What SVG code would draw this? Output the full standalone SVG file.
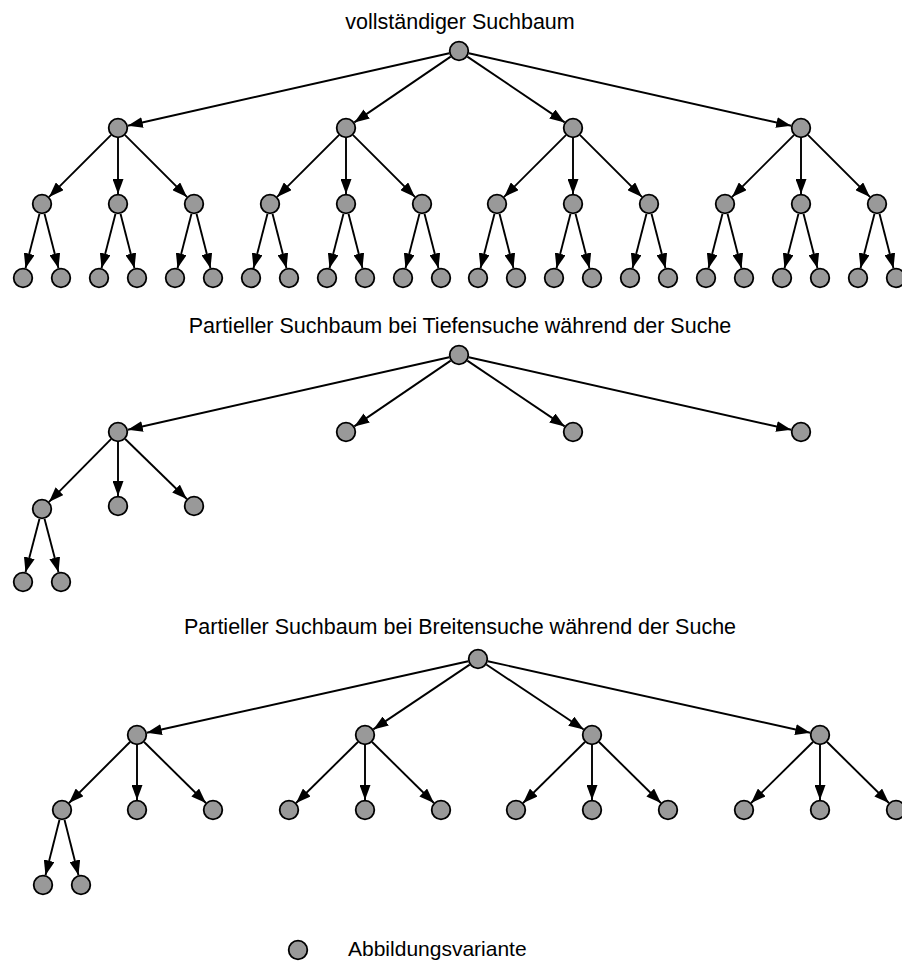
<svg xmlns="http://www.w3.org/2000/svg" xmlns:xlink="http://www.w3.org/1999/xlink" width="902" height="961" viewBox="0 0 902 961">
  <style>
    .node { fill: #999999; stroke: #000000; stroke-width: 1.8; }
    .edge { stroke: #000000; stroke-width: 1.9; fill: none; marker-end: url(#arrow); }
    .title { font-family: "Liberation Sans", Arial, sans-serif; font-size: 21.5px; fill: #000000; text-anchor: middle; }
    .legend { font-family: "Liberation Sans", Arial, sans-serif; font-size: 21px; fill: #000000; }
  </style>
  <defs>
    <marker id="arrow" markerUnits="userSpaceOnUse" markerWidth="15" markerHeight="11" refX="15" refY="5.5" orient="auto">
      <path d="M0,0 L15,5.5 L0,11 z" fill="#000000"/>
    </marker>
  </defs>

  <rect x="0" y="0" width="902" height="961" fill="#ffffff"/>

  <!-- headings -->
  <text class="title" x="460" y="29">vollständiger Suchbaum</text>
  <text class="title" x="460" y="333">Partieller Suchbaum bei Tiefensuche während der Suche</text>
  <text class="title" x="460" y="634">Partieller Suchbaum bei Breitensuche während der Suche</text>

  <!-- connectors -->
  <g id="connectors">
    <!-- full tree: root to level 1 -->
    <line class="edge" x1="449.2" y1="53.2" x2="127.8" y2="125.8"/>
    <line class="edge" x1="450.7" y1="56.6" x2="354.3" y2="122.4"/>
    <line class="edge" x1="467.3" y1="56.6" x2="564.7" y2="122.4"/>
    <line class="edge" x1="468.8" y1="53.2" x2="791.2" y2="125.8"/>
    <!-- full tree: level 1 to level 2 -->
    <line class="edge" x1="110.9" y1="135.1" x2="49.1" y2="196.9"/>
    <line class="edge" x1="118" y1="138" x2="118" y2="194"/>
    <line class="edge" x1="125.1" y1="135.1" x2="186.9" y2="196.9"/>
    <line class="edge" x1="338.9" y1="135.1" x2="277.1" y2="196.9"/>
    <line class="edge" x1="346" y1="138" x2="346" y2="194"/>
    <line class="edge" x1="353.1" y1="135.1" x2="414.9" y2="196.9"/>
    <line class="edge" x1="565.9" y1="135.1" x2="504.1" y2="196.9"/>
    <line class="edge" x1="573" y1="138" x2="573" y2="194"/>
    <line class="edge" x1="580.1" y1="135.1" x2="641.9" y2="196.9"/>
    <line class="edge" x1="793.9" y1="135.1" x2="732.1" y2="196.9"/>
    <line class="edge" x1="801" y1="138" x2="801" y2="194"/>
    <line class="edge" x1="808.1" y1="135.1" x2="869.9" y2="196.9"/>
    <!-- full tree: level 2 to leaves -->
    <line class="edge" x1="39.5" y1="213.7" x2="25.5" y2="268.3"/>
    <line class="edge" x1="44.5" y1="213.7" x2="58.5" y2="268.3"/>
    <line class="edge" x1="115.5" y1="213.7" x2="101.5" y2="268.3"/>
    <line class="edge" x1="120.5" y1="213.7" x2="134.5" y2="268.3"/>
    <line class="edge" x1="191.5" y1="213.7" x2="177.5" y2="268.3"/>
    <line class="edge" x1="196.5" y1="213.7" x2="210.5" y2="268.3"/>
    <line class="edge" x1="267.5" y1="213.7" x2="253.5" y2="268.3"/>
    <line class="edge" x1="272.5" y1="213.7" x2="286.5" y2="268.3"/>
    <line class="edge" x1="343.5" y1="213.7" x2="329.5" y2="268.3"/>
    <line class="edge" x1="348.5" y1="213.7" x2="362.5" y2="268.3"/>
    <line class="edge" x1="419.5" y1="213.7" x2="405.5" y2="268.3"/>
    <line class="edge" x1="424.5" y1="213.7" x2="438.5" y2="268.3"/>
    <line class="edge" x1="494.5" y1="213.7" x2="480.5" y2="268.3"/>
    <line class="edge" x1="499.5" y1="213.7" x2="513.5" y2="268.3"/>
    <line class="edge" x1="570.5" y1="213.7" x2="556.5" y2="268.3"/>
    <line class="edge" x1="575.5" y1="213.7" x2="589.5" y2="268.3"/>
    <line class="edge" x1="646.5" y1="213.7" x2="632.5" y2="268.3"/>
    <line class="edge" x1="651.5" y1="213.7" x2="665.5" y2="268.3"/>
    <line class="edge" x1="722.5" y1="213.7" x2="708.5" y2="268.3"/>
    <line class="edge" x1="727.5" y1="213.7" x2="741.5" y2="268.3"/>
    <line class="edge" x1="798.5" y1="213.7" x2="784.5" y2="268.3"/>
    <line class="edge" x1="803.5" y1="213.7" x2="817.5" y2="268.3"/>
    <line class="edge" x1="874.5" y1="213.7" x2="860.5" y2="268.3"/>
    <line class="edge" x1="879.5" y1="213.7" x2="893.5" y2="268.3"/>

    <!-- depth-first tree -->
    <line class="edge" x1="449.2" y1="357.2" x2="127.8" y2="429.8"/>
    <line class="edge" x1="450.7" y1="360.6" x2="354.3" y2="426.4"/>
    <line class="edge" x1="467.3" y1="360.6" x2="564.7" y2="426.4"/>
    <line class="edge" x1="468.8" y1="357.2" x2="791.2" y2="429.8"/>
    <line class="edge" x1="111" y1="439.1" x2="49" y2="501.9"/>
    <line class="edge" x1="118" y1="442" x2="118" y2="496"/>
    <line class="edge" x1="125.2" y1="439" x2="186.8" y2="499"/>
    <line class="edge" x1="39.5" y1="518.7" x2="25.5" y2="572.3"/>
    <line class="edge" x1="44.5" y1="518.7" x2="58.5" y2="572.3"/>

    <!-- breadth-first tree -->
    <line class="edge" x1="468.2" y1="661.2" x2="146.8" y2="732.8"/>
    <line class="edge" x1="469.7" y1="664.6" x2="373.3" y2="729.4"/>
    <line class="edge" x1="486.3" y1="664.5" x2="583.7" y2="729.5"/>
    <line class="edge" x1="487.8" y1="661.2" x2="810.2" y2="732.8"/>
    <line class="edge" x1="130" y1="742" x2="69" y2="803"/>
    <line class="edge" x1="137" y1="745" x2="137" y2="800"/>
    <line class="edge" x1="144.1" y1="742" x2="205.9" y2="803"/>
    <line class="edge" x1="357.9" y1="742" x2="296.1" y2="803"/>
    <line class="edge" x1="365" y1="745" x2="365" y2="800"/>
    <line class="edge" x1="372.1" y1="742" x2="433.9" y2="803"/>
    <line class="edge" x1="584.9" y1="742" x2="523.1" y2="803"/>
    <line class="edge" x1="592" y1="745" x2="592" y2="800"/>
    <line class="edge" x1="599.1" y1="742" x2="660.9" y2="803"/>
    <line class="edge" x1="812.9" y1="742" x2="751.1" y2="803"/>
    <line class="edge" x1="820" y1="745" x2="820" y2="800"/>
    <line class="edge" x1="827.1" y1="742" x2="888.9" y2="803"/>
    <line class="edge" x1="59.5" y1="819.7" x2="45.5" y2="875.3"/>
    <line class="edge" x1="64.5" y1="819.7" x2="78.5" y2="875.3"/>
  </g>

  <!-- full search tree nodes -->
  <g id="full-tree">
    <g id="a-root"><circle class="node" cx="459" cy="51" r="9.3"/></g>
    <g id="a-1"><circle class="node" cx="118" cy="128" r="9.3"/></g>
    <g id="a-2"><circle class="node" cx="346" cy="128" r="9.3"/></g>
    <g id="a-3"><circle class="node" cx="573" cy="128" r="9.3"/></g>
    <g id="a-4"><circle class="node" cx="801" cy="128" r="9.3"/></g>
    <g id="a-1-1"><circle class="node" cx="42" cy="204" r="9.3"/></g>
    <g id="a-1-2"><circle class="node" cx="118" cy="204" r="9.3"/></g>
    <g id="a-1-3"><circle class="node" cx="194" cy="204" r="9.3"/></g>
    <g id="a-2-1"><circle class="node" cx="270" cy="204" r="9.3"/></g>
    <g id="a-2-2"><circle class="node" cx="346" cy="204" r="9.3"/></g>
    <g id="a-2-3"><circle class="node" cx="422" cy="204" r="9.3"/></g>
    <g id="a-3-1"><circle class="node" cx="497" cy="204" r="9.3"/></g>
    <g id="a-3-2"><circle class="node" cx="573" cy="204" r="9.3"/></g>
    <g id="a-3-3"><circle class="node" cx="649" cy="204" r="9.3"/></g>
    <g id="a-4-1"><circle class="node" cx="725" cy="204" r="9.3"/></g>
    <g id="a-4-2"><circle class="node" cx="801" cy="204" r="9.3"/></g>
    <g id="a-4-3"><circle class="node" cx="877" cy="204" r="9.3"/></g>
    <g id="a-1-1-1"><circle class="node" cx="23" cy="278" r="9.3"/></g>
    <g id="a-1-1-2"><circle class="node" cx="61" cy="278" r="9.3"/></g>
    <g id="a-1-2-1"><circle class="node" cx="99" cy="278" r="9.3"/></g>
    <g id="a-1-2-2"><circle class="node" cx="137" cy="278" r="9.3"/></g>
    <g id="a-1-3-1"><circle class="node" cx="175" cy="278" r="9.3"/></g>
    <g id="a-1-3-2"><circle class="node" cx="213" cy="278" r="9.3"/></g>
    <g id="a-2-1-1"><circle class="node" cx="251" cy="278" r="9.3"/></g>
    <g id="a-2-1-2"><circle class="node" cx="289" cy="278" r="9.3"/></g>
    <g id="a-2-2-1"><circle class="node" cx="327" cy="278" r="9.3"/></g>
    <g id="a-2-2-2"><circle class="node" cx="365" cy="278" r="9.3"/></g>
    <g id="a-2-3-1"><circle class="node" cx="403" cy="278" r="9.3"/></g>
    <g id="a-2-3-2"><circle class="node" cx="441" cy="278" r="9.3"/></g>
    <g id="a-3-1-1"><circle class="node" cx="478" cy="278" r="9.3"/></g>
    <g id="a-3-1-2"><circle class="node" cx="516" cy="278" r="9.3"/></g>
    <g id="a-3-2-1"><circle class="node" cx="554" cy="278" r="9.3"/></g>
    <g id="a-3-2-2"><circle class="node" cx="592" cy="278" r="9.3"/></g>
    <g id="a-3-3-1"><circle class="node" cx="630" cy="278" r="9.3"/></g>
    <g id="a-3-3-2"><circle class="node" cx="668" cy="278" r="9.3"/></g>
    <g id="a-4-1-1"><circle class="node" cx="706" cy="278" r="9.3"/></g>
    <g id="a-4-1-2"><circle class="node" cx="744" cy="278" r="9.3"/></g>
    <g id="a-4-2-1"><circle class="node" cx="782" cy="278" r="9.3"/></g>
    <g id="a-4-2-2"><circle class="node" cx="820" cy="278" r="9.3"/></g>
    <g id="a-4-3-1"><circle class="node" cx="858" cy="278" r="9.3"/></g>
    <g id="a-4-3-2"><circle class="node" cx="896" cy="278" r="9.3"/></g>
  </g>

  <!-- depth-first partial tree nodes -->
  <g id="dfs-tree">
    <g id="b-root"><circle class="node" cx="459" cy="355" r="9.3"/></g>
    <g id="b-1"><circle class="node" cx="118" cy="432" r="9.3"/></g>
    <g id="b-2"><circle class="node" cx="346" cy="432" r="9.3"/></g>
    <g id="b-3"><circle class="node" cx="573" cy="432" r="9.3"/></g>
    <g id="b-4"><circle class="node" cx="801" cy="432" r="9.3"/></g>
    <g id="b-1-1"><circle class="node" cx="42" cy="509" r="9.3"/></g>
    <g id="b-1-2"><circle class="node" cx="118" cy="506" r="9.3"/></g>
    <g id="b-1-3"><circle class="node" cx="194" cy="506" r="9.3"/></g>
    <g id="b-1-1-1"><circle class="node" cx="23" cy="582" r="9.3"/></g>
    <g id="b-1-1-2"><circle class="node" cx="61" cy="582" r="9.3"/></g>
  </g>

  <!-- breadth-first partial tree nodes -->
  <g id="bfs-tree">
    <g id="c-root"><circle class="node" cx="478" cy="659" r="9.3"/></g>
    <g id="c-1"><circle class="node" cx="137" cy="735" r="9.3"/></g>
    <g id="c-2"><circle class="node" cx="365" cy="735" r="9.3"/></g>
    <g id="c-3"><circle class="node" cx="592" cy="735" r="9.3"/></g>
    <g id="c-4"><circle class="node" cx="820" cy="735" r="9.3"/></g>
    <g id="c-1-1"><circle class="node" cx="62" cy="810" r="9.3"/></g>
    <g id="c-1-2"><circle class="node" cx="137" cy="810" r="9.3"/></g>
    <g id="c-1-3"><circle class="node" cx="213" cy="810" r="9.3"/></g>
    <g id="c-2-1"><circle class="node" cx="289" cy="810" r="9.3"/></g>
    <g id="c-2-2"><circle class="node" cx="365" cy="810" r="9.3"/></g>
    <g id="c-2-3"><circle class="node" cx="441" cy="810" r="9.3"/></g>
    <g id="c-3-1"><circle class="node" cx="516" cy="810" r="9.3"/></g>
    <g id="c-3-2"><circle class="node" cx="592" cy="810" r="9.3"/></g>
    <g id="c-3-3"><circle class="node" cx="668" cy="810" r="9.3"/></g>
    <g id="c-4-1"><circle class="node" cx="744" cy="810" r="9.3"/></g>
    <g id="c-4-2"><circle class="node" cx="820" cy="810" r="9.3"/></g>
    <g id="c-4-3"><circle class="node" cx="896" cy="810" r="9.3"/></g>
    <g id="c-1-1-1"><circle class="node" cx="43" cy="885" r="9.3"/></g>
    <g id="c-1-1-2"><circle class="node" cx="81" cy="885" r="9.3"/></g>
  </g>

  <!-- legend -->
  <g id="legend">
    <circle class="node" cx="298" cy="950" r="9.3"/>
    <text class="legend" x="348" y="956">Abbildungsvariante</text>
  </g>
</svg>
